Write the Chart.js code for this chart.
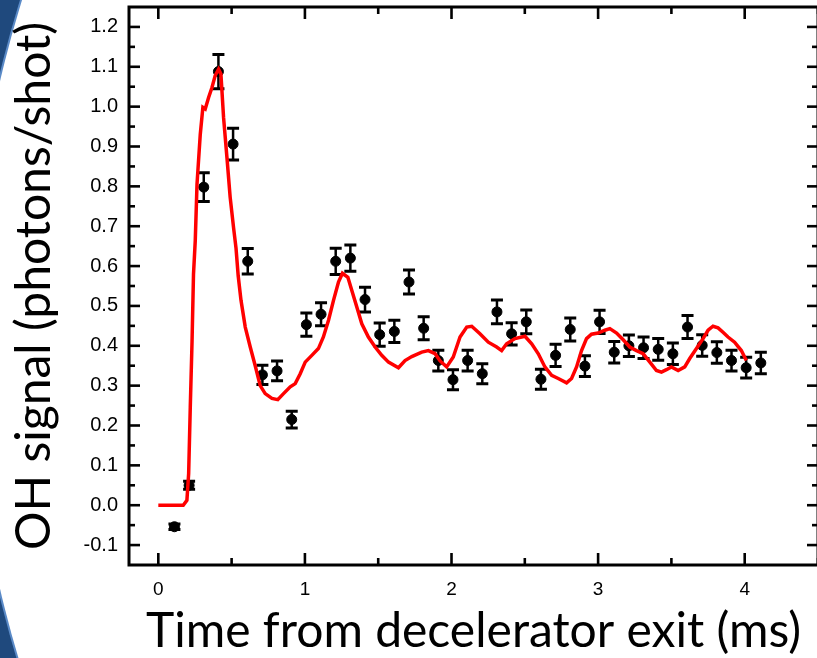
<!DOCTYPE html>
<html>
<head>
<meta charset="utf-8">
<script src="https://cdn.jsdelivr.net/npm/chart.js@4.4.1/dist/chart.umd.min.js"></script>
<style>
  html, body { margin:0; padding:0; width:817px; height:658px; overflow:hidden; background:#1F497D; }
  #panel { position:absolute; left:-29px; top:-789px; width:2248px; height:2248px; border-radius:50%; background:#fff; box-shadow:0 0 0 2px #5B8BC8; }
  #wrap { position:absolute; left:0; top:0; width:830px; height:658px; }
</style>
</head>
<body>
<div id="panel"></div>
<div id="wrap"><canvas id="c" width="830" height="658"></canvas></div>
<script>
// Measured OH signal (photons/shot) vs time from decelerator exit (ms)
const timeMs = [0.11,0.21,0.31,0.41,0.51,0.61,0.71,0.81,0.91,1.01,1.11,1.21,1.31,1.41,1.51,1.61,1.71,1.81,1.91,2.01,2.11,2.21,2.31,2.41,2.51,2.61,2.71,2.81,2.91,3.01,3.11,3.21,3.31,3.41,3.51,3.61,3.71,3.81,3.91,4.01,4.11];
const signal = [-0.054,0.050,0.798,1.088,0.906,0.612,0.327,0.337,0.215,0.453,0.479,0.612,0.620,0.516,0.428,0.436,0.560,0.444,0.363,0.315,0.363,0.330,0.485,0.430,0.460,0.316,0.376,0.441,0.349,0.460,0.384,0.400,0.395,0.391,0.380,0.447,0.401,0.383,0.363,0.345,0.357];
const signalErr = [0.007,0.010,0.036,0.043,0.040,0.032,0.024,0.025,0.021,0.029,0.029,0.033,0.033,0.031,0.029,0.028,0.030,0.029,0.026,0.025,0.026,0.025,0.030,0.028,0.030,0.025,0.028,0.029,0.026,0.029,0.027,0.027,0.027,0.027,0.027,0.029,0.027,0.027,0.026,0.026,0.027];

// Simulation curve
const simTime = [0,0.17,0.195,0.207,0.218,0.23,0.24,0.252,0.264,0.286,0.304,0.32,0.343,0.366,0.388,0.411,0.427,0.445,0.468,0.49,0.513,0.53,0.545,0.564,0.593,0.627,0.661,0.695,0.729,0.775,0.815,0.854,0.9,0.934,0.968,1.002,1.047,1.092,1.126,1.161,1.195,1.229,1.256,1.293,1.32,1.354,1.388,1.433,1.479,1.524,1.57,1.638,1.683,1.729,1.797,1.842,1.888,1.922,1.967,2.012,2.058,2.104,2.138,2.194,2.251,2.308,2.342,2.376,2.433,2.501,2.547,2.592,2.637,2.683,2.728,2.785,2.819,2.853,2.887,2.921,2.955,3.0,3.046,3.08,3.126,3.171,3.216,3.262,3.307,3.353,3.398,3.432,3.466,3.5,3.546,3.591,3.625,3.671,3.716,3.75,3.784,3.818,3.852,3.886,3.931,3.977,4.011];
const simSignal = [0,0,0.012,0.08,0.246,0.41,0.58,0.664,0.806,0.93,0.998,0.994,1.023,1.048,1.078,1.094,1.082,0.973,0.873,0.773,0.697,0.645,0.575,0.514,0.447,0.397,0.35,0.30,0.28,0.268,0.265,0.28,0.297,0.305,0.33,0.359,0.376,0.393,0.422,0.464,0.514,0.56,0.582,0.572,0.539,0.497,0.455,0.422,0.397,0.376,0.359,0.345,0.363,0.373,0.384,0.388,0.38,0.362,0.347,0.372,0.422,0.447,0.449,0.43,0.409,0.397,0.388,0.405,0.418,0.424,0.405,0.38,0.347,0.326,0.318,0.307,0.318,0.347,0.388,0.418,0.429,0.432,0.439,0.443,0.432,0.415,0.397,0.388,0.38,0.359,0.338,0.334,0.34,0.347,0.338,0.347,0.368,0.393,0.418,0.439,0.449,0.445,0.434,0.422,0.409,0.388,0.363];

// Tick values
const xTicks = [0,1,2,3,4];
const xMinorTicks = [0.5,1.5,2.5,3.5,4.5];
const yTicks = [-0.1,0.0,0.1,0.2,0.3,0.4,0.5,0.6,0.7,0.8,0.9,1.0,1.1,1.2];
const yMinorTicks = [-0.05,0.05,0.15,0.25,0.35,0.45,0.55,0.65,0.75,0.85,0.95,1.05,1.15];

const errorBarPlugin = {
  id: 'errorBars',
  beforeDatasetDraw(chart, args) {
    if (args.index !== 1) return;
    const {ctx, scales: {x, y}} = chart;
    ctx.save();
    ctx.strokeStyle = '#000';
    ctx.lineCap = 'butt';
    timeMs.forEach((t, i) => {
      const px = x.getPixelForValue(t);
      const yt = y.getPixelForValue(signal[i] + signalErr[i]);
      const yb = y.getPixelForValue(signal[i] - signalErr[i]);
      ctx.lineWidth = 2.5;
      ctx.beginPath(); ctx.moveTo(px, yt); ctx.lineTo(px, yb); ctx.stroke();
      ctx.lineWidth = 3;
      ctx.beginPath();
      ctx.moveTo(px - 6, yt); ctx.lineTo(px + 6, yt);
      ctx.moveTo(px - 6, yb); ctx.lineTo(px + 6, yb);
      ctx.stroke();
    });
    ctx.restore();
  }
};

const framePlugin = {
  id: 'frame',
  afterDatasetsDraw(chart) {
    const {ctx, chartArea: {left, right, top, bottom}, scales: {x, y}} = chart;
    ctx.save();
    ctx.strokeStyle = '#000';
    ctx.lineWidth = 3;
    ctx.strokeRect(left, top, right - left, bottom - top);
    ctx.lineWidth = 2.6;
    const seg = (a, b, c, d) => { ctx.beginPath(); ctx.moveTo(a, b); ctx.lineTo(c, d); ctx.stroke(); };
    xTicks.forEach(v => { const p = x.getPixelForValue(v); seg(p, bottom, p, bottom - 12); seg(p, top, p, top + 12); });
    xMinorTicks.forEach(v => { const p = x.getPixelForValue(v); seg(p, bottom, p, bottom - 7); seg(p, top, p, top + 7); });
    yTicks.forEach(v => { const p = y.getPixelForValue(v); seg(left, p, left + 11, p); seg(right, p, right - 11, p); });
    yMinorTicks.forEach(v => { const p = y.getPixelForValue(v); seg(left, p, left + 6, p); seg(right, p, right - 6, p); });
    ctx.restore();
  }
};

new Chart(document.getElementById('c'), {
  data: {
    datasets: [
      {
        type: 'line',
        label: 'Simulation',
        data: simTime.map((t, i) => ({x: t, y: simSignal[i]})),
        borderColor: '#FF0000',
        borderWidth: 3.5,
        pointRadius: 0,
        tension: 0,
        fill: false,
        order: 0
      },
      {
        type: 'scatter',
        label: 'Measured',
        data: timeMs.map((t, i) => ({x: t, y: signal[i]})),
        backgroundColor: '#000',
        borderColor: '#000',
        pointRadius: 5,
        order: 1
      }
    ]
  },
  options: {
    responsive: false,
    animation: false,
    devicePixelRatio: 1,
    layout: {padding: {top: 7, right: 12, left: 0, bottom: 0}},
    plugins: {legend: {display: false}, tooltip: {enabled: false}},
    scales: {
      x: {
        type: 'linear', min: -0.2, max: 4.5,
        grid: {display: false, drawTicks: false},
        border: {display: false},
        afterBuildTicks: s => { s.ticks = xTicks.map(v => ({value: v})); },
        afterFit: s => { s.height = 93; s.paddingLeft = 0; s.paddingRight = 0; },
        ticks: {font: {family: 'Liberation Sans', size: 19}, color: '#000', padding: 13, maxRotation: 0, autoSkip: false, callback: v => String(v)},
        title: {display: true, text: 'Time from decelerator exit (ms)', font: {family: 'Lato', size: 48}, color: '#000', padding: {top: 0, bottom: -2}}
      },
      y: {
        type: 'linear', min: -0.15, max: 1.25,
        grid: {display: false, drawTicks: false},
        border: {display: false},
        afterBuildTicks: s => { s.ticks = yTicks.map(v => ({value: v})); },
        afterFit: s => { s.width = 129; s.paddingTop = 0; s.paddingBottom = 0; },
        ticks: {font: {family: 'Liberation Sans', size: 20}, color: '#000', padding: 11, autoSkip: false, callback: v => v.toFixed(1)},
        title: {display: true, text: 'OH signal (photons/shot)', font: {family: 'Lato', size: 48}, color: '#000', padding: {top: 6, bottom: 0}}
      }
    }
  },
  plugins: [errorBarPlugin, framePlugin]
});
</script>
</body>
</html>
